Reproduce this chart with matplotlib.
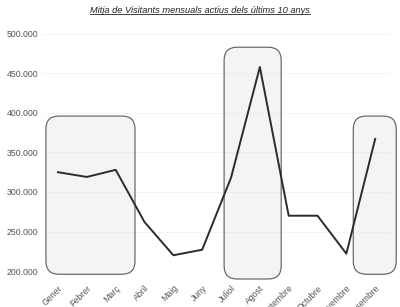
import matplotlib
matplotlib.use('Agg')
import matplotlib.pyplot as plt
from matplotlib.patches import FancyBboxPatch
from matplotlib.lines import Line2D
from matplotlib.ticker import FuncFormatter

plt.rcParams['font.family'] = ['Liberation Sans Narrow', 'Liberation Sans', 'DejaVu Sans']

mesos = ['Gener', 'Febrer', 'Març', 'Abril', 'Maig', 'Juny', 'Juliol', 'Agost',
         'Setembre', 'Octubre', 'Novembre', 'Desembre']
visitants = [325000, 319000, 328000, 262000, 220000, 227000, 318000, 458000,
             270000, 270000, 222000, 367000]
yticks = [200000, 250000, 300000, 350000, 400000, 450000, 500000]

fig = plt.figure(figsize=(4, 3.07), dpi=100)
ax = fig.add_axes([0.109, 0.117, 0.865, 0.773])

x = list(range(len(mesos)))
ax.plot(x, visitants, color='#2b2b2b', lw=1.4, zorder=3)

ax.set_xlim(-0.5, 11.5)
ax.set_ylim(200000, 500000)
ax.set_yticks(yticks)
ax.yaxis.set_major_formatter(FuncFormatter(lambda v, p: f'{int(v):,}'.replace(',', '.')))
ax.set_xticks(x)
ax.set_xticklabels(mesos, rotation=45, ha='right', rotation_mode='anchor')
ax.tick_params(axis='both', length=0, labelsize=6.3, colors='#555555')
ax.tick_params(axis='x', pad=9)
ax.tick_params(axis='y', pad=4)
ax.grid(axis='y', color='#f2f2f2', lw=0.6)
ax.set_axisbelow(True)
for s in ax.spines.values():
    s.set_visible(False)

# rounded highlight boxes (x0, x1, y0, y1)
caixes = [(-0.42, 2.67, 196000, 396000),
          (5.76, 7.74, 190000, 483000),
          (10.24, 11.73, 196000, 396000)]
for x0, x1, y0, y1 in caixes:
    r = 0.45
    asp = 50000 / 39.5 * 28.8
    box = FancyBboxPatch((x0 + r, y0 + r * asp), (x1 - x0) - 2 * r, (y1 - y0) - 2 * r * asp,
                         boxstyle=f'round,pad={r},rounding_size={r}',
                         mutation_aspect=asp, facecolor='#d9d9d9', alpha=0.28,
                         edgecolor='none', clip_on=False, zorder=1)
    ax.add_patch(box)
    edge = FancyBboxPatch((x0 + r, y0 + r * asp), (x1 - x0) - 2 * r, (y1 - y0) - 2 * r * asp,
                          boxstyle=f'round,pad={r},rounding_size={r}',
                          mutation_aspect=asp, facecolor='none',
                          edgecolor='#5a5a5a', lw=0.8, clip_on=False, zorder=2)
    ax.add_patch(edge)

titol = fig.text(0.5, 0.966, 'Mitja de Visitants mensuals actius dels últims 10 anys',
                 ha='center', va='center', fontsize=6.7, style='italic', color='#222222')
fig.canvas.draw()
bb = titol.get_window_extent().transformed(fig.transFigure.inverted())
fig.add_artist(Line2D([bb.x0, bb.x1], [bb.y0 + 0.002, bb.y0 + 0.002],
                      transform=fig.transFigure, color='#222222', lw=0.6))

fig.savefig('out.png', dpi=100)
